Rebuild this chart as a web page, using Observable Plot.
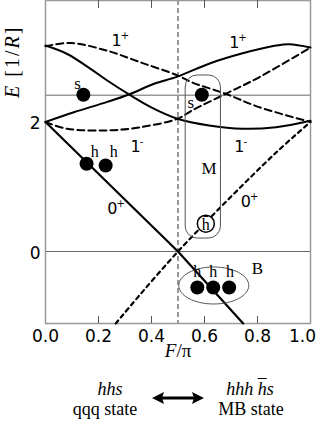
<!DOCTYPE html>
<html>
<head>
<meta charset="utf-8">
<script src="https://cdn.jsdelivr.net/npm/d3@7"></script>
<script src="https://cdn.jsdelivr.net/npm/@observablehq/plot@0.6"></script>
<style>
  body { margin: 0; background: white; }
  #wrap { width: 327px; position: relative; }
  #wrap svg { display: block; }
  #foot { position: relative; width: 327px; height: 58px; font-family: "Liberation Serif", serif; font-size: 18px; color: #000; }
  #foot .t { position: absolute; transform: translate(-50%, -50%); white-space: nowrap; line-height: 1; }
  .it { font-style: italic; }
  .ov { text-decoration: overline; }
</style>
</head>
<body>
<div id="wrap"></div>
<script>
// ---- data ----
const xTicks = [0, 0.2, 0.4, 0.6, 0.8, 1.0];
const xTickLabels = ["0.0", "0.2", "0.4", "0.6", "0.8", "1.0"];
const innerTicks = [0.2, 0.4, 0.6, 0.8];
const yTicks = [0, 2];
const yTickLabels = ["0", "2"];
const hLines = [0, 2.414];
const vLine = [0.5];

// curves: [F/pi, E]
const solidDown = [[0,3.18],[0.082,3.05],[0.17,2.82],[0.233,2.64],[0.315,2.425],[0.397,2.23],[0.498,2.05],[0.617,1.946],[0.744,1.895],[0.87,1.92],[1.0,2.02]];
const solidUp = [[0,2.0],[0.107,2.15],[0.233,2.31],[0.315,2.425],[0.41,2.59],[0.498,2.70],[0.617,2.9],[0.744,3.06],[0.87,3.18],[0.92,3.2],[1.0,3.15]];
const dashedDown = [[0,3.17],[0.095,3.22],[0.233,3.10],[0.359,2.92],[0.498,2.72],[0.554,2.61],[0.68,2.435],[0.806,2.23],[1.0,2.0]];
const dashedUp = [[0,2.0],[0.082,1.895],[0.233,1.87],[0.359,1.92],[0.498,2.05],[0.554,2.18],[0.68,2.435],[0.806,2.69],[1.0,3.15]];
const zeroSolid = [[0,2.0],[0.5,0],[0.746,-1.112]];
const zeroDashed = [[0.265,-1.112],[0.5,0],[0.863,1.5],[1.0,2.0]];

// particles
const sDots = [[0.143,2.42],[0.59,2.42]];
const hDots = [[0.155,1.354],[0.227,1.328]];
const bDots = [[0.573,-0.556],[0.633,-0.556],[0.693,-0.556]];
const hbar = [[0.605,0.43]];

// annotation labels
const sLabels = [[0.121,2.595,"s"],[0.548,2.306,"s"]];
const hLabels = [[0.186,1.534,"h"],[0.258,1.534,"h"],[0.573,-0.32,"h"],[0.633,-0.32,"h"],[0.696,-0.32,"h"]];
const boxLabels = [[0.617,1.275,"M"],[0.8,-0.27,"B"]];
const curveLabels = [[0.268,3.26,"1+"],[0.712,3.217,"1+"],[0.34,1.61,"1-"],[0.731,1.61,"1-"],[0.252,0.66,"0+"],[0.756,0.763,"0+"]];
const mBox = [{x1:0.529, x2:0.662, y1:0.2, y2:2.718}];
const bEllipse = [[0.635,-0.525]];
const yLabelPos = [2.93];
const yLabelText = "E [1/R]";
const xLabelText = "F/\u03c0";

const ellipseSymbol = {
  draw(ctx) {
    const rx = 35, ry = 18.5, k = 0.5523;
    ctx.moveTo(rx, 0);
    ctx.bezierCurveTo(rx, ry*k, rx*k, ry, 0, ry);
    ctx.bezierCurveTo(-rx*k, ry, -rx, ry*k, -rx, 0);
    ctx.bezierCurveTo(-rx, -ry*k, -rx*k, -ry, 0, -ry);
    ctx.bezierCurveTo(rx*k, -ry, rx, -ry*k, rx, 0);
    ctx.closePath();
  }
};

const sans = "DejaVu Sans";
const serif = "Liberation Serif";
const frameH = 323;

const plot = Plot.plot({
  width: 327,
  height: 365,
  marginLeft: 45,
  marginRight: 17,
  marginTop: 0,
  marginBottom: 42,
  x: {domain: [0, 1], axis: null},
  y: {domain: [-1.112, 3.876], axis: null},
  marks: [
    Plot.ruleY(hLines, {stroke: "#666", strokeWidth: 1}),
    Plot.ruleX(vLine, {stroke: "#333", strokeWidth: 1, strokeDasharray: "5,3"}),
    Plot.frame({stroke: "#999", strokeWidth: 1.5}),
    Plot.ruleX(innerTicks, {stroke: "#555", strokeWidth: 1, insetTop: frameH - 7}),
    Plot.ruleX(innerTicks, {stroke: "#555", strokeWidth: 1, insetBottom: frameH - 8}),
    Plot.text(xTicks.slice(0, 5), {x: d => d, frameAnchor: "bottom", dy: 18, text: (d, i) => xTickLabels[i], fontFamily: sans, fontSize: 17, fill: "#000"}),
    Plot.text(xTicks.slice(5), {x: d => d, frameAnchor: "bottom", dy: 18, dx: -8, text: (d, i) => xTickLabels[5 + i], fontFamily: sans, fontSize: 17, fill: "#000"}),
    Plot.text(yTicks, {y: d => d, frameAnchor: "left", dx: -5, dy: 2, textAnchor: "end", text: (d, i) => yTickLabels[i], fontFamily: sans, fontSize: 17, fill: "#000"}),
    Plot.text(yLabelPos, {y: d => d, frameAnchor: "left", textAnchor: "middle", text: () => yLabelText, fontFamily: serif, fontSize: 20, fill: "#000"}),
    Plot.text([xLabelText], {x: () => 0.5, frameAnchor: "bottom", dy: 33, fontFamily: serif, fontSize: 19, fill: "#000"}),
    // curves
    Plot.line(solidDown, {x: "0", y: "1", curve: "catmull-rom", stroke: "#000", strokeWidth: 2}),
    Plot.line(solidUp, {x: "0", y: "1", curve: "catmull-rom", stroke: "#000", strokeWidth: 2}),
    Plot.line(dashedDown, {x: "0", y: "1", curve: "catmull-rom", stroke: "#000", strokeWidth: 2, strokeDasharray: "7,4"}),
    Plot.line(dashedUp, {x: "0", y: "1", curve: "catmull-rom", stroke: "#000", strokeWidth: 2, strokeDasharray: "7,4"}),
    Plot.line(zeroSolid, {x: "0", y: "1", stroke: "#000", strokeWidth: 2.2}),
    Plot.line(zeroDashed, {x: "0", y: "1", curve: "catmull-rom", stroke: "#000", strokeWidth: 2.2, strokeDasharray: "4,4"}),
    // groupings
    Plot.rect(mBox, {x1: "x1", x2: "x2", y1: "y1", y2: "y2", rx: 12, fill: "none", stroke: "#555", strokeWidth: 1}),
    Plot.dot(bEllipse, {x: "0", y: "1", symbol: ellipseSymbol, r: 10, fill: "white", fillOpacity: 0, stroke: "#555", strokeWidth: 1}),
    // particles
    Plot.dot(sDots, {x: "0", y: "1", r: 7, fill: "#000", stroke: "none"}),
    Plot.dot(hDots, {x: "0", y: "1", r: 7, fill: "#000", stroke: "none"}),
    Plot.dot(bDots, {x: "0", y: "1", r: 7, fill: "#000", stroke: "none"}),
    Plot.dot(hbar, {x: "0", y: "1", r: 8.5, fill: "white", stroke: "#000", strokeWidth: 1.5}),
    Plot.text(hbar, {x: "0", y: "1", text: () => "h\u0304", fontFamily: serif, fontSize: 16, fill: "#000", dy: 1}),
    // labels
    Plot.text(sLabels, {x: "0", y: "1", text: "2", fontFamily: serif, fontSize: 17, fill: "#000"}),
    Plot.text(hLabels, {x: "0", y: "1", text: "2", fontFamily: serif, fontSize: 16, fill: "#000"}),
    Plot.text(boxLabels, {x: "0", y: "1", text: "2", fontFamily: serif, fontSize: 17, fill: "#000"}),
    Plot.text(curveLabels, {x: "0", y: "1", text: "2", textAnchor: "start", dx: -5, fontFamily: sans, fontSize: 16, fill: "#000"})
  ]
});

document.getElementById("wrap").appendChild(plot);

const svg = d3.select(plot);
const texts = svg.selectAll("text");

// y label: rotate and mix italic
const yPx = plot.scale("y").apply(yLabelPos[0]);
texts.filter(function () { return this.textContent === yLabelText; })
  .attr("x", null).attr("y", null)
  .attr("text-anchor", "middle")
  .attr("letter-spacing", "2")
  .attr("transform", `translate(18,${yPx}) rotate(-90)`)
  .html('<tspan font-style="italic">E</tspan> [1/<tspan font-style="italic">R</tspan>]');

texts.filter(function () { return this.textContent === xLabelText; })
  .html('<tspan font-style="italic">F</tspan>/\u03c0');

// superscripts on curve labels
const curveTexts = new Set(curveLabels.map(d => d[2]));
texts.filter(function () { return curveTexts.has(this.textContent); }).each(function () {
  const t = this.textContent;
  d3.select(this).html(`${t[0]}<tspan dx="-1" dy="-7" font-size="10">${t[1]}</tspan>`);
});
</script>
<div id="foot">
  <div class="t it" style="left:110px; top:24px;">hhs</div>
  <div class="t" style="left:105px; top:44px;">qqq state</div>
  <svg style="position:absolute; left:150px; top:25px;" width="56" height="16">
    <line x1="10" y1="8" x2="46" y2="8" stroke="#000" stroke-width="3"/>
    <polygon points="2,8 14,2 12,8 14,14" fill="#000"/>
    <polygon points="54,8 42,2 44,8 42,14" fill="#000"/>
  </svg>
  <div class="t it" style="left:250px; top:24px;">hhh <span class="ov">h</span>s</div>
  <div class="t" style="left:251px; top:44px;">MB state</div>
</div>
</body>
</html>
